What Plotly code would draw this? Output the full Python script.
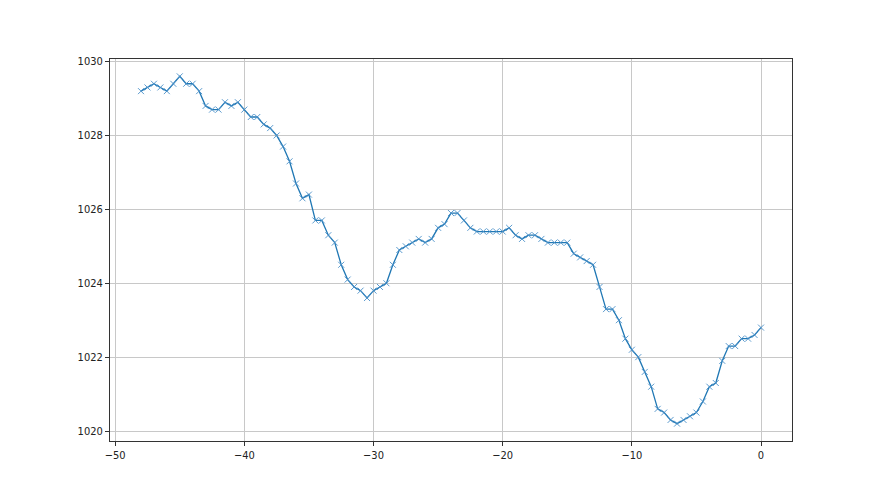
import plotly.graph_objects as go

hours = [-48 + 0.5 * i for i in range(97)]
pressure = [
    1029.2, 1029.3, 1029.4, 1029.3, 1029.2, 1029.4, 1029.6, 1029.4, 1029.4, 1029.2,
    1028.8, 1028.7, 1028.7, 1028.9, 1028.8, 1028.9, 1028.7, 1028.5, 1028.5, 1028.3,
    1028.2, 1028.0, 1027.7, 1027.3, 1026.7, 1026.3, 1026.4, 1025.7, 1025.7, 1025.3,
    1025.1, 1024.5, 1024.1, 1023.9, 1023.8, 1023.6, 1023.8, 1023.9, 1024.0, 1024.5,
    1024.9, 1025.0, 1025.1, 1025.2, 1025.1, 1025.2, 1025.5, 1025.6, 1025.9, 1025.9,
    1025.7, 1025.5, 1025.4, 1025.4, 1025.4, 1025.4, 1025.4, 1025.5, 1025.3, 1025.2,
    1025.3, 1025.3, 1025.2, 1025.1, 1025.1, 1025.1, 1025.1, 1024.8, 1024.7, 1024.6,
    1024.5, 1023.9, 1023.3, 1023.3, 1023.0, 1022.5, 1022.2, 1022.0, 1021.6, 1021.2,
    1020.6, 1020.5, 1020.3, 1020.2, 1020.3, 1020.4, 1020.5, 1020.8, 1021.2, 1021.3,
    1021.9, 1022.3, 1022.3, 1022.5, 1022.5, 1022.6, 1022.8,
]
x_ticks = [-50, -40, -30, -20, -10, 0]
y_ticks = [1020, 1022, 1024, 1026, 1028, 1030]

color = "#1f77b4"
fig = go.Figure(
    go.Scatter(
        x=hours, y=pressure, mode="lines+markers",
        line=dict(color=color, width=1.3),
        marker=dict(symbol="x-thin", size=6, line=dict(color="#4a90c8", width=0.9)),
        showlegend=False,
    )
)

axis_common = dict(
    showline=True, mirror=True, linecolor="#333333", linewidth=1,
    ticks="outside", ticklen=4, tickcolor="#333333", tickwidth=1,
    showgrid=True, gridcolor="#c8c8c8", gridwidth=1,
    zeroline=False,
    tickfont=dict(family="Liberation Sans Narrow, DejaVu Sans Condensed, Arial Narrow, sans-serif",
                  size=11, color="#222222"),
)

fig.update_xaxes(range=[-50.4, 2.4], tickvals=x_ticks, ticklabelstandoff=0, **axis_common)
fig.update_yaxes(range=[1019.73, 1030.07], tickvals=y_ticks, **axis_common)

fig.update_layout(
    width=880, height=495,
    margin=dict(l=102, r=96, t=51, b=62),
    paper_bgcolor="white", plot_bgcolor="white",
)

fig.write_html("out.html")
